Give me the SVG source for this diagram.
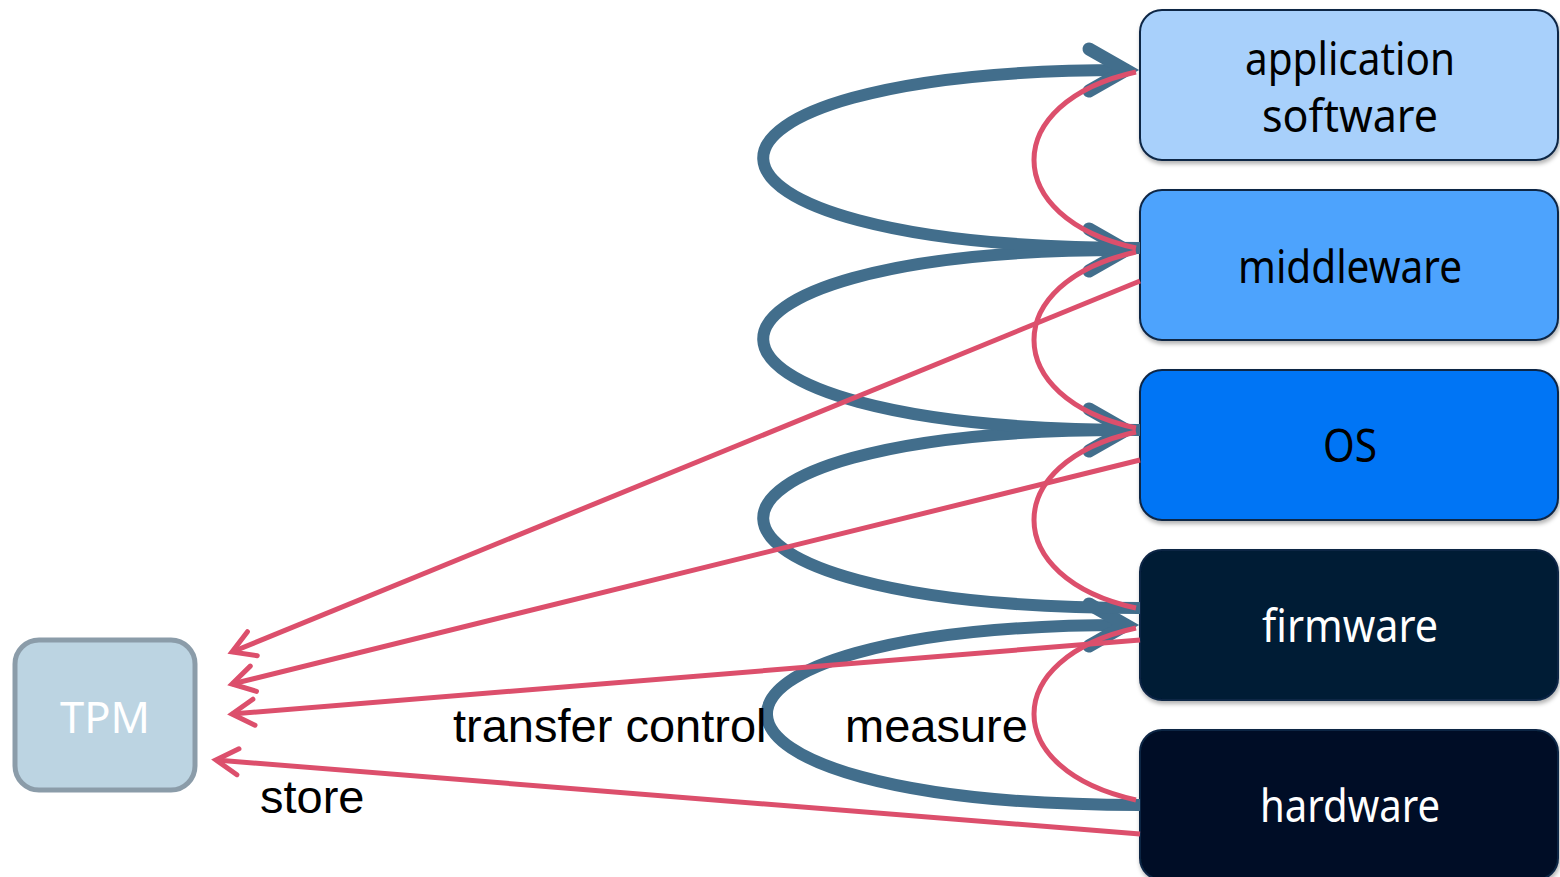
<svg xmlns="http://www.w3.org/2000/svg" width="1560" height="877" viewBox="0 0 1560 877">
  <style>
    .layer { stroke: #0b2545; stroke-width: 2; filter: url(#shadow); }
    .layer-label { font-family: "Noto Sans", "Open Sans", sans-serif; font-size: 46px; text-anchor: middle; }
    .dark { fill: #000000; }
    .light { fill: #ffffff; }
    .transfer { fill: none; stroke: #426e8c; stroke-width: 12; marker-end: url(#head-transfer); }
    .measure { fill: none; stroke: #dc4f6c; stroke-width: 5; }
    .store { fill: none; stroke: #dc4f6c; stroke-width: 5; marker-end: url(#head-store); }
    .caption { font-family: "Liberation Sans", Arial, sans-serif; font-size: 47px; fill: #000000; }
  </style>
  <defs>
    <filter id="shadow" x="-5%" y="-10%" width="110%" height="125%">
      <feDropShadow dx="1" dy="3" stdDeviation="2" flood-color="#000000" flood-opacity="0.3"/>
    </filter>
    <marker id="head-transfer" markerUnits="userSpaceOnUse" orient="auto" refX="0" refY="0" markerWidth="80" markerHeight="80" viewBox="-50 -40 80 80" overflow="visible">
      <path d="M-37,-21 L0,0 L-37,21" fill="none" stroke="#426e8c" stroke-width="13" stroke-linecap="round" stroke-linejoin="miter"/>
    </marker>
    <marker id="head-store" markerUnits="userSpaceOnUse" orient="auto" refX="0" refY="0" markerWidth="60" markerHeight="60" viewBox="-30 -30 60 60" overflow="visible">
      <path d="M-22,-13 L0,0 L-22,13" fill="none" stroke="#dc4f6c" stroke-width="5" stroke-linecap="round" stroke-linejoin="miter"/>
    </marker>
  </defs>

  <rect width="1560" height="877" fill="#ffffff"/>

  <!-- software stack -->
  <g id="application-software">
    <rect class="layer" x="1140" y="10" width="418" height="150" rx="22" fill="#a8d0fb"/>
    <text class="layer-label dark" x="1350" y="75" textLength="210" lengthAdjust="spacingAndGlyphs">application</text>
    <text class="layer-label dark" x="1350" y="132" textLength="176" lengthAdjust="spacingAndGlyphs">software</text>
  </g>
  <g id="middleware">
    <rect class="layer" x="1140" y="190" width="418" height="150" rx="22" fill="#4ea3fd"/>
    <text class="layer-label dark" x="1350" y="283" textLength="224" lengthAdjust="spacingAndGlyphs">middleware</text>
  </g>
  <g id="os">
    <rect class="layer" x="1140" y="370" width="418" height="150" rx="22" fill="#0474f5"/>
    <text class="layer-label dark" x="1350" y="462" textLength="54" lengthAdjust="spacingAndGlyphs">OS</text>
  </g>
  <g id="firmware">
    <rect class="layer" x="1140" y="550" width="418" height="150" rx="22" fill="#001a36"/>
    <text class="layer-label light" x="1350" y="642" textLength="176" lengthAdjust="spacingAndGlyphs">firmware</text>
  </g>
  <g id="hardware">
    <rect class="layer" x="1140" y="730" width="418" height="150" rx="22" fill="#001026"/>
    <text class="layer-label light" x="1350" y="822" textLength="180" lengthAdjust="spacingAndGlyphs">hardware</text>
  </g>

  <g id="tpm">
    <rect x="15" y="640" width="180" height="150" rx="24" fill="#bcd4e2" stroke="#8b9ca9" stroke-width="5"/>
    <text x="105" y="733" font-family="'Noto Sans', 'Open Sans', sans-serif" font-size="44" fill="#ffffff" text-anchor="middle" textLength="90" lengthAdjust="spacingAndGlyphs">TPM</text>
  </g>

  <g id="connectors">
    <!-- transfer control: each layer hands over to the one above -->
    <path class="transfer" d="M1140,805 C645,805 645,625 1126,625"/>
    <path class="transfer" d="M1140,608 C640,608 640,430 1126,430"/>
    <path class="transfer" d="M1140,430 C640,430 640,250 1126,250"/>
    <path class="transfer" d="M1140,248 C640,248 640,70 1126,70"/>

    <!-- measure: each layer measures the one above -->
    <path class="measure" d="M1136,72 C1000,102 1000,218 1136,248"/>
    <path class="measure" d="M1136,252 C1000,282 1000,398 1136,428"/>
    <path class="measure" d="M1136,432 C1000,462 1000,578 1136,608"/>
    <path class="measure" d="M1136,628 C1000,658 1000,770 1136,800"/>

    <!-- store: measurements go into the TPM -->
    <path class="store" d="M1140,281 L232,652"/>
    <path class="store" d="M1140,460 L232,684"/>
    <path class="store" d="M1140,640 L232,714"/>
    <path class="store" d="M1140,834 L216,760"/>
  </g>

  <g id="labels">
    <text class="caption" x="453" y="742">transfer control</text>
    <text class="caption" x="845" y="742">measure</text>
    <text class="caption" x="260" y="813">store</text>
  </g>
</svg>
